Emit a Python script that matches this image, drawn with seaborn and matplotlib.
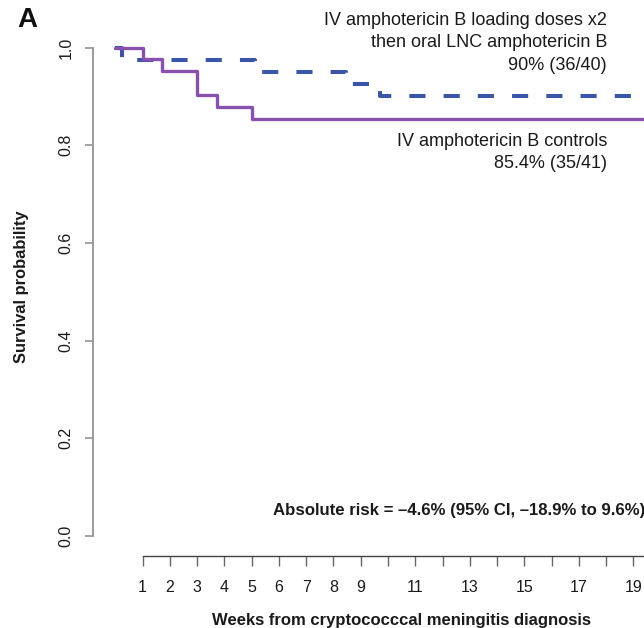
import matplotlib
matplotlib.use("Agg")
import matplotlib.pyplot as plt
import seaborn as sns
import pandas as pd

# Kaplan-Meier step data (weeks, survival probability)
lnc_weeks = [0, 0.24, 5.12, 8.46, 9.7, 20]
lnc_surv = [1.0, 39/40, 38/40, 37/40, 36/40, 36/40]
ctrl_weeks = [0, 1.02, 1.70, 2.98, 3.72, 5.01, 20]
ctrl_surv = [1.0, 40/41, 39/41, 37/41, 36/41, 35/41, 35/41]

week_ticks = list(range(1, 20))
week_labels = [str(w) if (w < 10 or w % 2 == 1) else "" for w in week_ticks]
prob_ticks = [0.0, 0.2, 0.4, 0.6, 0.8, 1.0]
prob_labels = ["0.0", "0.2", "0.4", "0.6", "0.8", "1.0"]

lnc_label = "IV amphotericin B loading doses x2\nthen oral LNC amphotericin B\n90% (36/40)"
ctrl_label = "IV amphotericin B controls\n85.4% (35/41)"
risk_text = "Absolute risk = \u20134.6% (95% CI, \u201318.9% to 9.6%)"

sns.set_theme(style="white")
plt.rcParams["font.family"] = ["Liberation Sans", "DejaVu Sans"]
text_color = "#1a1a1a"
purple = "#8751ad"
blue = "#3b55a9"

fig = plt.figure(figsize=(6.44, 6.28), dpi=100)
ax = fig.add_axes([93 / 644, 1 - 556 / 628, 551 / 644, 516 / 628])

lnc = pd.DataFrame({"week": lnc_weeks, "surv": lnc_surv})
ctrl = pd.DataFrame({"week": ctrl_weeks, "surv": ctrl_surv})

sns.lineplot(data=lnc, x="week", y="surv", ax=ax, color=blue, lw=2.9,
             drawstyle="steps-post", linestyle=(0, (4.0, 4.5)), legend=False)
sns.lineplot(data=ctrl, x="week", y="surv", ax=ax, color=purple, lw=2.4,
             drawstyle="steps-post", legend=False)

ax.set_xlim(-0.82, 19.39)
ax.set_ylim(-0.041, 1.0154)

for s in ["top", "right"]:
    ax.spines[s].set_visible(False)
ax.spines["left"].set_bounds(0, 1)
ax.spines["left"].set_color("#9a9a9a")
ax.spines["left"].set_linewidth(1.4)
ax.spines["bottom"].set_bounds(1, 19.39)
ax.spines["bottom"].set_color("#444444")
ax.spines["bottom"].set_linewidth(1.0)

ax.set_xticks(week_ticks)
ax.set_xticklabels(week_labels)
ax.set_yticks(prob_ticks)
ax.set_yticklabels(prob_labels, rotation=90, va="center")
for lbl in ax.get_yticklabels():
    lbl.set_y(lbl.get_position()[1])
ax.tick_params(axis="y", direction="out", length=6, width=1.1, color="#8a8a8a",
               pad=8, labelsize=11.5, labelcolor=text_color, left=True)
ax.tick_params(axis="x", direction="out", length=7, width=1.0, color="#666666",
               pad=10, labelsize=11.5, labelcolor=text_color, bottom=True)

ax.set_xlabel("Weeks from cryptococccal meningitis diagnosis", fontsize=12,
              fontweight="bold", color=text_color)
ax.xaxis.set_label_coords((401 - 93) / 551, (556 - 620) / 516)
ax.set_ylabel("Survival probability", fontsize=11.9, fontweight="bold",
              color=text_color)
ax.yaxis.set_label_coords((22 - 93) / 551, (556 - 287) / 516)
ax.yaxis.label.set_va("center")
ax.xaxis.label.set_va("center")

fig.text(607 / 644, 1 - 12 / 628, lnc_label, ha="right", va="top",
         multialignment="right", fontsize=13, color=text_color, linespacing=1.42)
fig.text(607 / 644, 1 - 133 / 628, ctrl_label, ha="right", va="top",
         multialignment="right", fontsize=13, color=text_color, linespacing=1.42)
fig.text(273 / 644, 1 - 510 / 628, risk_text, ha="left", va="center",
         fontsize=12.1, fontweight="bold", color=text_color)
fig.text(27.5 / 644, 1 - 20 / 628, "A", ha="center", va="center",
         fontsize=20, fontweight="bold", color="#111111")

fig.savefig("out.png", dpi=100)
